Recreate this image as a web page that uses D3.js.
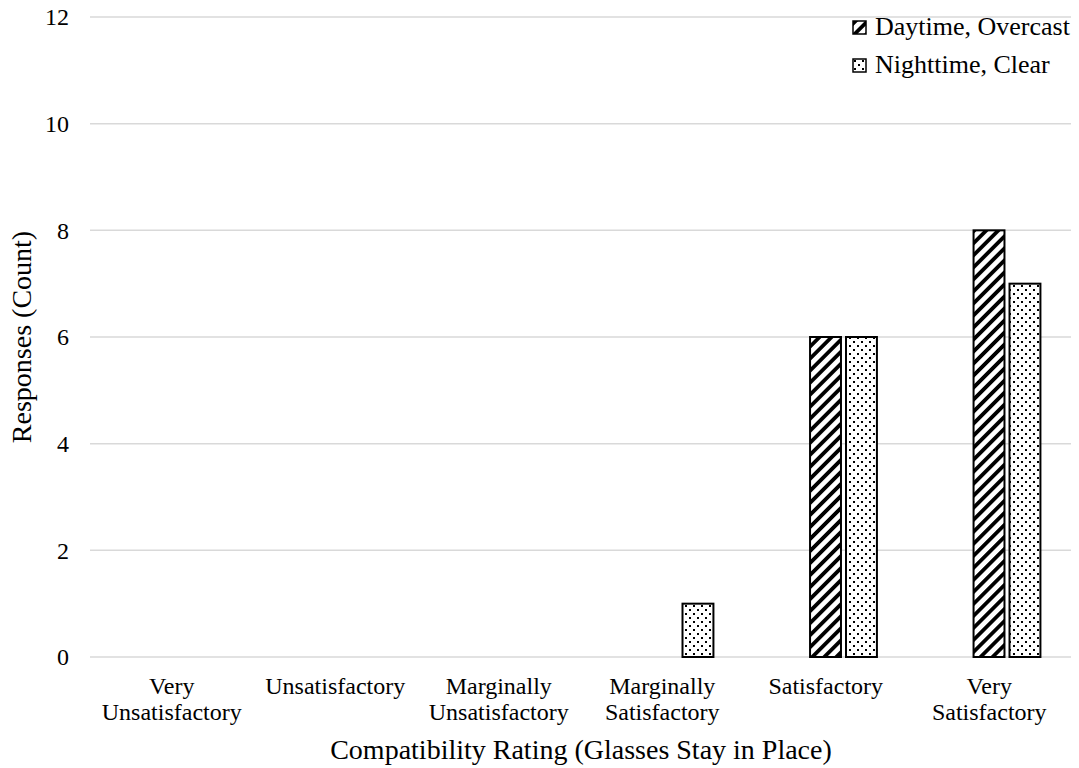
<!DOCTYPE html>
<html><head><meta charset="utf-8">
<script src="https://cdn.jsdelivr.net/npm/d3@7"></script>
<style>body{margin:0;background:#fff}svg{display:block}text{font-family:"Liberation Serif","Times New Roman",serif;fill:#000}</style>
</head><body>
<svg id="c" width="1079" height="768"></svg>
<script>
const categories = [["Very","Unsatisfactory"],["Unsatisfactory"],["Marginally","Unsatisfactory"],["Marginally","Satisfactory"],["Satisfactory"],["Very","Satisfactory"]];
const seriesNames = ["Daytime, Overcast","Nighttime, Clear"];
const daytime = [0,0,0,0,6,8];
const nighttime = [0,0,0,1,6,7];
const yTicks = [0,2,4,6,8,10,12];

(function(){
const svg = d3.select("#c");
const mLeft=90, mRight=1071, mTop=17, mBottom=657;
const catKeys = categories.map(c=>c.join(" "));
const x = d3.scaleBand().domain(catKeys).range([mLeft,mRight]);
const y = d3.scaleLinear().domain([0,12]).range([mBottom,mTop]);
const bw = x.bandwidth();
const x1 = d3.scaleBand().domain(seriesNames).range([bw*0.404, bw*0.813]).paddingInner(0.14);

const defs = svg.append("defs");
const ps = defs.append("pattern").attr("id","stripes").attr("patternUnits","userSpaceOnUse")
  .attr("width",8.5).attr("height",8.5).attr("patternTransform","rotate(45)");
ps.append("rect").attr("width",8.5).attr("height",8.5).attr("fill","#fff");
ps.append("rect").attr("width",3.8).attr("height",8.5).attr("fill","#000");
const pd = defs.append("pattern").attr("id","dots").attr("patternUnits","userSpaceOnUse")
  .attr("width",8).attr("height",8);
pd.append("rect").attr("width",8).attr("height",8).attr("fill","#fff");
pd.append("rect").attr("x",1).attr("y",1).attr("width",2).attr("height",2).attr("fill","#000");
pd.append("rect").attr("x",5).attr("y",5).attr("width",2).attr("height",2).attr("fill","#000");
const fills = {"Daytime, Overcast":"url(#stripes)","Nighttime, Clear":"url(#dots)"};

svg.append("g").selectAll("line").data(yTicks).join("line")
  .attr("x1",mLeft).attr("x2",mRight).attr("y1",d=>y(d)).attr("y2",d=>y(d))
  .attr("stroke","#d9d9d9").attr("stroke-width",1.5);
svg.append("g").selectAll("text").data(yTicks).join("text")
  .attr("x",69).attr("y",d=>y(d)).attr("dy","0.35em").attr("text-anchor","end")
  .attr("font-size",24).text(d=>d);

const data = [];
catKeys.forEach((k,i)=>{
  data.push({cat:k,s:seriesNames[0],v:daytime[i]});
  data.push({cat:k,s:seriesNames[1],v:nighttime[i]});
});
svg.append("g").selectAll("rect").data(data.filter(d=>d.v>0)).join("rect")
  .attr("x",d=>x(d.cat)+x1(d.s)).attr("width",x1.bandwidth())
  .attr("y",d=>y(d.v)).attr("height",d=>y(0)-y(d.v))
  .attr("fill",d=>fills[d.s]).attr("stroke","#000").attr("stroke-width",2);

const cl = svg.append("g").selectAll("text").data(categories).join("text")
  .attr("text-anchor","middle").attr("font-size",24)
  .attr("transform",(d,i)=>`translate(${x(catKeys[i])+bw/2},694)`);
cl.selectAll("tspan").data(d=>d).join("tspan").attr("x",0).attr("dy",(d,i)=>i?26:0).text(d=>d);

svg.append("text").attr("x",581).attr("y",759).attr("text-anchor","middle")
  .attr("font-size",28).text("Compatibility Rating (Glasses Stay in Place)");
svg.append("text").attr("transform",`translate(31,${(mTop+mBottom)/2}) rotate(-90)`)
  .attr("text-anchor","middle").attr("font-size",28).text("Responses (Count)");

const lg = svg.append("g").selectAll("g").data(seriesNames).join("g")
  .attr("transform",(d,i)=>`translate(853,${21+i*38})`);
lg.append("rect").attr("width",13).attr("height",13).attr("fill",d=>fills[d]).attr("stroke","#000").attr("stroke-width",1.5);
lg.append("text").attr("x",22).attr("y",14).attr("font-size",26).text(d=>d);
})();
</script>
</body></html>
